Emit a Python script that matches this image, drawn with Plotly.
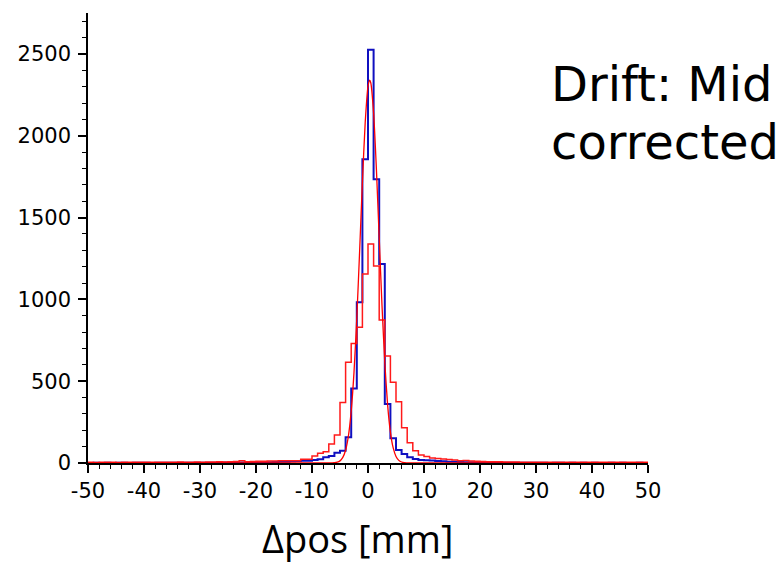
import plotly.graph_objects as go

# ---- data ----
bin_left = list(range(-50, 50))  # 1 mm bins, left edges

blue_counts = [
    0, 1, 0, 1, 0, 1, 1, 0, 1, 1,      # -50..-41
    1, 0, 1, 1, 2, 1, 1, 2, 1, 2,      # -40..-31
    2, 1, 2, 2, 3, 2, 3, 3, 4, 3,      # -30..-21
    4, 4, 5, 6, 7, 8, 10, 12, 14, 14,  # -20..-11
    18, 23, 35, 43, 63, 75, 157, 456, 982, 1856,  # -10..-1
    2525, 1734, 1216, 360, 151, 80, 55, 35, 24, 18,  # 0..9
    17, 15, 12, 10, 8, 7, 6, 5, 4, 4,  # 10..19
    3, 3, 2, 2, 2, 1, 2, 1, 1, 1,      # 20..29
    1, 1, 0, 1, 1, 0, 1, 0, 1, 0,      # 30..39
    1, 0, 0, 1, 0, 1, 0, 0, 1, 0,      # 40..49
]

red_counts = [
    4, 3, 4, 5, 4, 3, 5, 4, 4, 5,      # -50..-41
    4, 5, 4, 5, 5, 4, 6, 5, 5, 6,      # -40..-31
    5, 6, 6, 7, 6, 8, 9, 14, 8, 9,     # -30..-21
    10, 11, 12, 12, 14, 14, 14, 14, 23, 23,  # -20..-11
    43, 59, 69, 116, 171, 369, 615, 731, 829, 1155,  # -10..-1
    1339, 1204, 874, 654, 493, 375, 216, 124, 75, 49,  # 0..9
    39, 30, 28, 24, 22, 18, 14, 16, 12, 10,  # 10..19
    9, 8, 8, 7, 6, 6, 6, 5, 5, 5,      # 20..29
    5, 5, 4, 5, 4, 5, 4, 4, 5, 4,      # 30..39
    4, 5, 4, 4, 5, 4, 4, 5, 4, 4,      # 40..49
]

fit_x = [-50, -7, -6.5, -6, -5.5, -5, -4.5, -4, -3.5, -3, -2.5, -2, -1.5, -1, -0.5, 0, 0.3,
         0.5, 1, 1.5, 2, 2.5, 3, 3.5, 4, 4.5, 5, 5.5, 6, 6.5, 7, 7.5, 50]
fit_y = [0, 0, 1, 2, 5, 13, 34, 78, 165, 317, 554, 886, 1291, 1715, 2080, 2302, 2340,
         2323, 2139, 1796, 1376, 962, 614, 357, 189, 92, 40, 16, 6, 2, 1, 0, 0]

x_ticks = [-50, -40, -30, -20, -10, 0, 10, 20, 30, 40, 50]
y_ticks = [0, 500, 1000, 1500, 2000, 2500]

# ---- build step outlines from bin edges ----
edges = bin_left + [bin_left[-1] + 1]


def steps(counts):
    return list(counts) + [counts[-1]]


fig = go.Figure()
fig.add_trace(go.Scatter(x=edges, y=steps(blue_counts), mode="lines",
                         line=dict(color="#1010c0", width=2, shape="hv"),
                         hoverinfo="skip", showlegend=False))
fig.add_trace(go.Scatter(x=edges, y=steps(red_counts), mode="lines",
                         line=dict(color="#ff1a1a", width=1.5, shape="hv"),
                         hoverinfo="skip", showlegend=False))
fig.add_trace(go.Scatter(x=fit_x, y=fit_y, mode="lines",
                         line=dict(color="#ff0000", width=1.3, shape="spline", smoothing=0.6),
                         hoverinfo="skip", showlegend=False))

tick_font = dict(family="DejaVu Sans", size=21, color="black")

fig.update_layout(
    width=783, height=565,
    margin=dict(l=88, r=135, t=13, b=102, pad=0),
    paper_bgcolor="white", plot_bgcolor="white",
    showlegend=False,
    xaxis=dict(range=[-50, 50], tickvals=x_ticks, ticktext=[str(v) for v in x_ticks],
               ticks="outside", ticklen=8, tickwidth=1.5, tickcolor="black",
               showline=True, linecolor="black", linewidth=1.5,
               showgrid=False, zeroline=False, tickfont=tick_font,
               minor=dict(dtick=2, tick0=0, ticks="outside", ticklen=4,
                          tickwidth=1.2, tickcolor="black", showgrid=False)),
    yaxis=dict(range=[0, 2750], tickvals=y_ticks, ticktext=[str(v) for v in y_ticks],
               ticks="outside", ticklen=8, tickwidth=1.5, tickcolor="black",
               showline=True, linecolor="black", linewidth=1.5,
               showgrid=False, zeroline=False, tickfont=tick_font,
               ticklabelstandoff=3,
               minor=dict(dtick=100, tick0=0, ticks="outside", ticklen=4,
                          tickwidth=1.2, tickcolor="black", showgrid=False)),
)

fig.add_annotation(text="Δpos [mm]", xref="paper", yref="paper",
                   x=(357 - 88) / 560, y=(463 - 538) / 450,
                   xanchor="center", yanchor="middle", showarrow=False,
                   font=dict(family="Open Sans", size=38, color="black"))
fig.add_annotation(text="Drift: Mid", xref="paper", yref="paper",
                   x=(549 - 88) / 560, y=(463 - 84) / 450,
                   xanchor="left", yanchor="middle", showarrow=False,
                   font=dict(family="DejaVu Sans", size=48, color="black"))
fig.add_annotation(text="corrected", xref="paper", yref="paper",
                   x=(549 - 88) / 560, y=(463 - 142) / 450,
                   xanchor="left", yanchor="middle", showarrow=False,
                   font=dict(family="DejaVu Sans", size=48, color="black"))

fig.write_html("out.html", config={"displayModeBar": False},
               post_script="document.body.style.margin='0';document.body.style.overflow='hidden';")
